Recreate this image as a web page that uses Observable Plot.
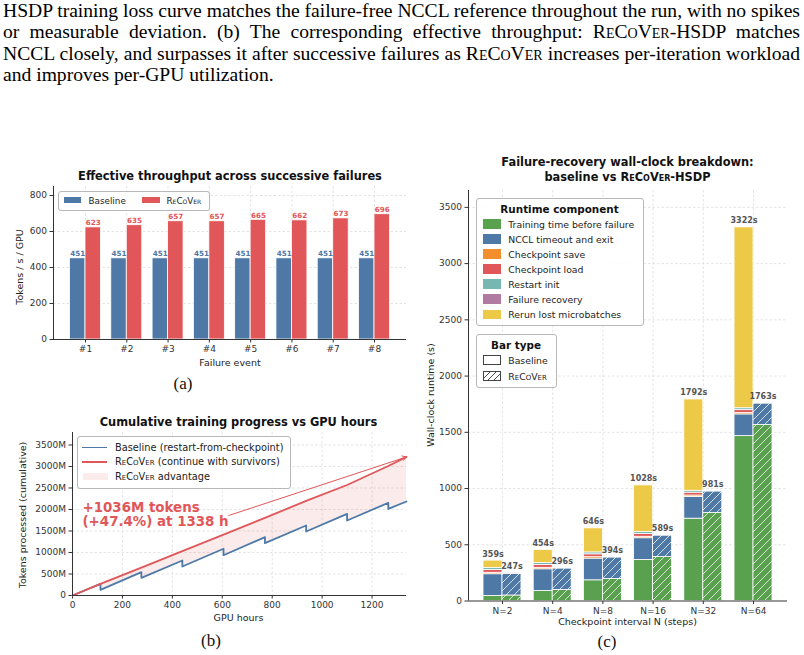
<!DOCTYPE html>
<html>
<head>
<meta charset="utf-8">
<script src="https://cdn.jsdelivr.net/npm/d3@7"></script>
<script src="https://cdn.jsdelivr.net/npm/@observablehq/plot@0.6"></script>
<style>
  body { margin: 0; background: #fff; }
  #fig { position: relative; width: 804px; height: 655px; overflow: hidden; font-family: "DejaVu Sans", sans-serif; color: #222; }
  .para { position: absolute; left: 3px; white-space: nowrap; font-family: "Liberation Serif", serif; font-size: 19.6px; line-height: 22px; color: #000; }
  .abs { position: absolute; white-space: nowrap; line-height: 1; }
  .sc { font-variant: small-caps; }
  .box { position: absolute; box-sizing: border-box; border: 1px solid #b8b8b8; border-radius: 3px; background: rgba(255,255,255,0.85); }
  .sw { position: absolute; box-sizing: border-box; }
  svg.chart { position: absolute; }
</style>
</head>
<body>
<svg width="0" height="0" style="position:absolute">
  <defs>
    <pattern id="hatch" patternUnits="userSpaceOnUse" width="8" height="8">
      <path d="M-2,2 L2,-2 M0,8 L8,0 M6,10 L10,6" stroke="#ffffff" stroke-opacity="0.85" stroke-width="0.9"/>
    </pattern>
  </defs>
</svg>
<div id="fig"></div>
<script>
// ---------- (a) effective throughput per failure event ----------
const failures = ["#1", "#2", "#3", "#4", "#5", "#6", "#7", "#8"];
const baselineTput = [451, 451, 451, 451, 451, 451, 451, 451];
const recoverTput = [623, 635, 657, 657, 665, 662, 673, 696];
const tputTicks = [0, 200, 400, 600, 800];

// ---------- (b) cumulative tokens (millions) vs GPU hours ----------
const baselineHours  = [0, 112, 112, 276, 276, 440, 440, 605, 605, 771, 771, 936, 936, 1100, 1100, 1265, 1265, 1338];
const baselineTokens = [0, 270, 132, 542, 411, 814, 674, 1086, 937, 1356, 1217, 1628, 1488, 1899, 1744, 2155, 2016, 2186];
const recoverHours  = [0, 112, 276, 440, 605, 771, 936, 1100, 1265, 1338];
const recoverTokens = [0, 270, 650, 1030, 1415, 1805, 2200, 2570, 3010, 3222];
const hourTicks = [0, 200, 400, 600, 800, 1000, 1200];
const tokenTicks = [0, 500, 1000, 1500, 2000, 2500, 3000, 3500];

// ---------- (c) wall-clock breakdown per checkpoint interval ----------
const intervals = ["N=2", "N=4", "N=8", "N=16", "N=32", "N=64"];
const components = ["Training time before failure", "NCCL timeout and exit", "Checkpoint save",
  "Checkpoint load", "Restart init", "Failure recovery", "Rerun lost microbatches"];
const componentColors = ["#59a14f", "#4e79a7", "#f28e2b", "#e15759", "#76b7b2", "#b07aa1", "#edc948"];
const baselineTraining = [45, 89, 184, 365, 732, 1466];
const baselineNccl     = [193, 193, 193, 193, 193, 193];
const baselineCkptSave = [13, 13, 13, 13, 13, 13];
const baselineCkptLoad = [25, 25, 25, 25, 25, 25];
const baselineRestart  = [17, 17, 17, 17, 17, 17];
const baselineRecovery = [0, 0, 0, 0, 0, 0];
const baselineRerun    = [66, 117, 214, 415, 812, 1608];
const recoverTraining  = [49, 98, 196, 391, 783, 1565];
const recoverNccl      = [191, 191, 191, 191, 191, 191];
const recoverCkptSave  = [0, 0, 0, 0, 0, 0];
const recoverCkptLoad  = [0, 0, 0, 0, 0, 0];
const recoverRestart   = [0, 0, 0, 0, 0, 0];
const recoverRecovery  = [7, 7, 7, 7, 7, 7];
const recoverRerun     = [0, 0, 0, 0, 0, 0];
const runtimeTicks = [0, 500, 1000, 1500, 2000, 2500, 3000, 3500];

const BLUE = "#4e79a7", RED = "#e15759";
const fig = document.getElementById("fig");

// ---------- caption paragraph ----------
const RC = '<span class="sc">ReCoVer</span>';
const paraLines = [
  "HSDP training loss curve matches the failure-free NCCL reference throughout the run, with no spikes",
  `or measurable deviation. (b) The corresponding effective throughput: ${RC}-HSDP matches`,
  `NCCL closely, and surpasses it after successive failures as ${RC} increases per-iteration workload`,
  "and improves per-GPU utilization."
];
paraLines.forEach((html, k) => {
  const d = document.createElement("div");
  d.className = "para";
  d.style.top = (k * 21.35) + "px";
  const s = document.createElement("span");
  s.innerHTML = html;
  d.appendChild(s);
  fig.appendChild(d);
  if (k < paraLines.length - 1) {
    const natural = s.getBoundingClientRect().width;
    const gaps = (s.textContent.match(/ /g) || []).length;
    s.style.wordSpacing = ((797 - natural) / gaps) + "px";
  }
});

// ---------- helpers ----------
function place(svg, left, top) {
  svg.classList.add("chart");
  svg.style.left = left + "px";
  svg.style.top = top + "px";
  fig.appendChild(svg);
}
function label(html, cx, cy, css = {}, rotate = 0) {
  const d = document.createElement("div");
  d.className = "abs";
  d.innerHTML = html;
  d.style.left = cx + "px";
  d.style.top = cy + "px";
  d.style.transform = `translate(-50%,-50%)` + (rotate ? ` rotate(${rotate}deg)` : "");
  Object.assign(d.style, css);
  fig.appendChild(d);
  return d;
}
function textAt(html, left, cy, css = {}) {
  const d = document.createElement("div");
  d.className = "abs";
  d.innerHTML = html;
  d.style.left = left + "px";
  d.style.top = cy + "px";
  d.style.transform = "translateY(-50%)";
  Object.assign(d.style, css);
  fig.appendChild(d);
  return d;
}
function rectDiv(cls, left, top, w, h, css = {}) {
  const d = document.createElement("div");
  d.className = cls;
  Object.assign(d.style, {left: left + "px", top: top + "px", width: w + "px", height: h + "px"}, css);
  fig.appendChild(d);
  return d;
}
const baseStyle = {fontFamily: "DejaVu Sans", fontSize: "9px", color: "#333", background: "transparent"};
const grid = {stroke: "#d9d9d9", strokeDasharray: "2.5,2", strokeWidth: 0.7};
const tickOpts = {tickSize: 3.5, tickPadding: 3, label: null};
const titleCss = {fontWeight: "bold", fontSize: "11.4px", color: "#111"};
const axisLabelCss = {fontSize: "9.5px", color: "#222"};
const panelCss = {fontFamily: "Liberation Serif", fontSize: "17px", color: "#111"};

// ---------- (a) ----------
const half = 0.375;
const xA = [-0.775, 7.775];
const tputRows = failures.flatMap((f, i) => [
  {i, series: "Baseline", value: baselineTput[i]},
  {i, series: "ReCoVer", value: recoverTput[i]}
]);
const chartA = Plot.plot({
  width: 410, height: 185, marginLeft: 53, marginRight: 4, marginTop: 10, marginBottom: 22,
  style: baseStyle,
  x: {domain: xA, ticks: failures.map((_, i) => i), tickFormat: i => failures[i], ...tickOpts},
  y: {domain: [0, 850], ticks: tputTicks, tickFormat: d => String(d), ...tickOpts},
  color: {domain: ["Baseline", "ReCoVer"], range: [BLUE, RED]},
  marks: [
    Plot.ruleY(tputTicks.slice(1), grid),
    Plot.ruleX(failures.map((_, i) => i), grid),
    Plot.rect(tputRows, {
      x1: d => d.series === "Baseline" ? d.i - half : d.i,
      x2: d => d.series === "Baseline" ? d.i : d.i + half,
      y1: 0, y2: "value", fill: "series", stroke: "white", strokeWidth: 0.8
    }),
    Plot.text(tputRows, {
      x: d => d.i + (d.series === "Baseline" ? -half / 2 : half / 2),
      y: "value", text: d => String(d.value), fill: "series",
      lineAnchor: "bottom", dy: -2, fontWeight: "bold", fontSize: 7.2
    }),
    Plot.ruleX([xA[0]], {stroke: "#333", strokeWidth: 1}),
    Plot.ruleY([0], {stroke: "#333", strokeWidth: 1})
  ]
});
place(chartA, 0, 176);
label("Effective throughput across successive failures", 230, 177, titleCss);
label("Tokens / s / GPU", 20, 267, axisLabelCss, -90);
label("Failure event", 230, 363, axisLabelCss);
label("(a)", 183, 383, panelCss);
rectDiv("box", 58, 191, 152, 20);
rectDiv("sw", 64, 197, 17, 6, {background: BLUE});
textAt("Baseline", 88.5, 200.5, {fontSize: "8.8px"});
rectDiv("sw", 142, 197, 18, 6, {background: RED});
textAt(`<span class="sc">ReCoVer</span>`, 166.5, 200.5, {fontSize: "8.8px"});

// ---------- (b) ----------
const baselineRows = baselineHours.map((h, i) => ({h, tokens: baselineTokens[i]}));
const recoverRows = recoverHours.map((h, i) => ({h, tokens: recoverTokens[i]}));
const recoverAt = new Map(recoverRows.map(d => [d.h, d.tokens]));
const gapRows = baselineRows.map(d => ({h: d.h, lo: d.tokens, hi: recoverAt.get(d.h)}));
const lastB = baselineRows[baselineRows.length - 1];
const lastR = recoverRows[recoverRows.length - 1];
const gain = lastR.tokens - lastB.tokens;
const gainPct = (100 * gain / lastB.tokens).toFixed(1);
const note = {h: 40, tokens: 1884, tailH: 626, tailTokens: 1860,
  text: `+${gain}M tokens\n(+${gainPct}%) at ${lastR.h} h`};
const chartB = Plot.plot({
  width: 415, height: 190, marginLeft: 72, marginRight: 9, marginTop: 7, marginBottom: 20,
  style: baseStyle,
  x: {domain: [0, 1338], ticks: hourTicks, tickFormat: d => String(d), ...tickOpts},
  y: {domain: [0, 3790], ticks: tokenTicks, tickFormat: d => d === 0 ? "0" : d + "M", ...tickOpts},
  marks: [
    Plot.ruleY(tokenTicks.slice(1), grid),
    Plot.ruleX(hourTicks.slice(1), grid),
    Plot.areaY(gapRows, {x: "h", y1: "lo", y2: "hi", fill: RED, fillOpacity: 0.12}),
    Plot.line(baselineRows, {x: "h", y: "tokens", stroke: BLUE, strokeWidth: 1.8}),
    Plot.line(recoverRows, {x: "h", y: "tokens", stroke: RED, strokeWidth: 1.8}),
    Plot.arrow([note], {x1: "tailH", y1: "tailTokens", x2: () => lastR.h, y2: () => lastR.tokens,
      stroke: RED, strokeWidth: 1, headLength: 7}),
    Plot.text([note], {x: "h", y: "tokens", text: "text", textAnchor: "start", fill: RED,
      fontWeight: "bold", fontSize: 13.4, lineHeight: 1.05}),
    Plot.ruleX([0], {stroke: "#333", strokeWidth: 1}),
    Plot.ruleY([0], {stroke: "#333", strokeWidth: 1})
  ]
});
place(chartB, 0, 425);
label("Cumulative training progress vs GPU hours", 238.5, 423, titleCss);
label("Tokens processed (cumulative)", 23, 515, axisLabelCss, -90);
label("GPU hours", 238.5, 618, axisLabelCss);
label("(b)", 211, 640, panelCss);
rectDiv("box", 77, 436, 214, 53);
rectDiv("sw", 82, 446.5, 25, 1.8, {background: BLUE});
textAt("Baseline (restart-from-checkpoint)", 115, 447.5, {fontSize: "9.8px"});
rectDiv("sw", 82, 461, 25, 1.8, {background: RED});
textAt(`<span class="sc">ReCoVer</span> (continue with survivors)`, 115, 462, {fontSize: "9.8px"});
rectDiv("sw", 82.5, 472.5, 25, 7.5, {background: "rgba(225,87,89,0.12)"});
textAt(`<span class="sc">ReCoVer</span> advantage`, 115, 476.5, {fontSize: "9.8px"});

// ---------- (c) ----------
const bw = 0.378;
const xC = [-0.677, 5.677];
const baselineParts = [baselineTraining, baselineNccl, baselineCkptSave, baselineCkptLoad, baselineRestart, baselineRecovery, baselineRerun];
const recoverParts = [recoverTraining, recoverNccl, recoverCkptSave, recoverCkptLoad, recoverRestart, recoverRecovery, recoverRerun];
const segments = [], totals = [];
[["Baseline", baselineParts], ["ReCoVer", recoverParts]].forEach(([type, parts]) => {
  intervals.forEach((n, i) => {
    let y = 0;
    parts.forEach((arr, c) => {
      const v = arr[i];
      if (v > 0) segments.push({i, type, component: components[c], y1: y, y2: y + v});
      y += v;
    });
    totals.push({i, type, total: y});
  });
});
const left = d => d.type === "Baseline" ? d.i - bw : d.i;
const right = d => d.type === "Baseline" ? d.i : d.i + bw;
const chartC = Plot.plot({
  width: 384, height: 440, marginLeft: 48, marginRight: 17, marginTop: 5, marginBottom: 24.5,
  style: baseStyle,
  x: {domain: xC, ticks: intervals.map((_, i) => i), tickFormat: i => intervals[i], ...tickOpts},
  y: {domain: [0, 3650], ticks: runtimeTicks, tickFormat: d => String(d), ...tickOpts},
  color: {domain: components, range: componentColors},
  marks: [
    Plot.ruleY(runtimeTicks.slice(1), grid),
    Plot.ruleX(intervals.map((_, i) => i), grid),
    Plot.rect(segments, {x1: left, x2: right, y1: "y1", y2: "y2", fill: "component",
      stroke: "white", strokeWidth: 0.8}),
    Plot.rect(totals.filter(d => d.type === "ReCoVer"), {x1: left, x2: right, y1: 0, y2: "total",
      fill: "url(#hatch)"}),
    Plot.text(totals, {x: d => (left(d) + right(d)) / 2, y: "total", text: d => d.total + "s",
      lineAnchor: "bottom", dy: -4, fill: "#555", fontWeight: "bold", fontSize: 8}),
    Plot.ruleX([xC[0]], {stroke: "#333", strokeWidth: 1}),
    Plot.ruleY([0], {stroke: "#333", strokeWidth: 1})
  ]
});
place(chartC, 420, 185);
label("Failure-recovery wall-clock breakdown:", 627.5, 163, titleCss);
label(`baseline vs <span class="sc">ReCoVer</span>-HSDP`, 627.5, 177.5, titleCss);
label("Wall-clock runtime (s)", 431, 395, axisLabelCss, -90);
label("Checkpoint interval N (steps)", 627.5, 622, axisLabelCss);
label("(c)", 607, 641, panelCss);

rectDiv("box", 475.5, 197.5, 168, 128.5);
label("Runtime component", 559.5, 209, {fontWeight: "bold", fontSize: "10.4px", color: "#111"});
components.forEach((c, k) => {
  const cy = 224 + k * 15.05;
  rectDiv("sw", 482.5, cy - 4.8, 18.5, 9.6, {background: componentColors[k]});
  textAt(c, 508.3, cy + 0.5, {fontSize: "9.3px"});
});
rectDiv("box", 475.5, 333.5, 81, 54);
label("Bar type", 516, 345, {fontWeight: "bold", fontSize: "10.4px", color: "#111"});
rectDiv("sw", 482.5, 354.8, 18.5, 10.4, {border: "1px solid #444", background: "#fff"});
textAt("Baseline", 508.3, 360.5, {fontSize: "9.3px"});
const hs = rectDiv("sw", 482.5, 370.8, 18.5, 10.4, {border: "1px solid #444", background: "#fff", overflow: "hidden"});
hs.innerHTML = '<svg width="17" height="9" style="display:block"><path d="M-3,9 L6,0 M3,9 L12,0 M9,9 L18,0 M15,9 L24,0" stroke="#333" stroke-width="0.9"/></svg>';
textAt(`<span class="sc">ReCoVer</span>`, 508.3, 376.5, {fontSize: "9.3px"});
</script>
</body>
</html>
